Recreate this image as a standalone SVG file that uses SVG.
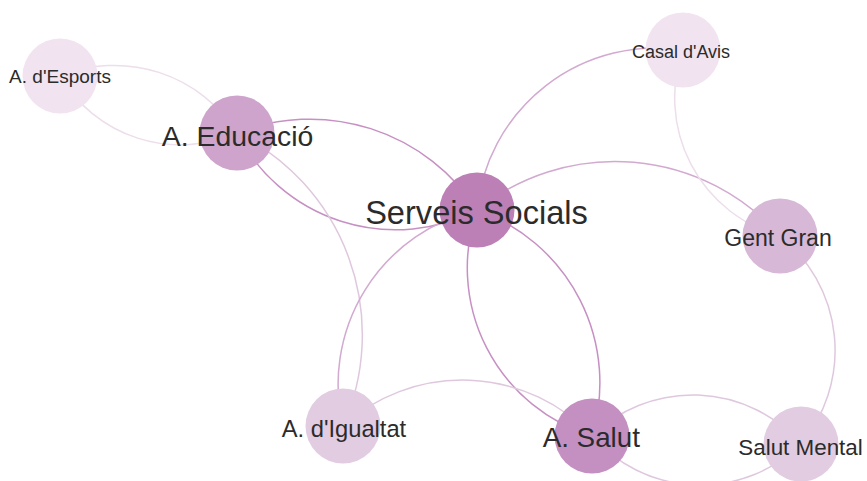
<svg xmlns="http://www.w3.org/2000/svg" width="867" height="481" viewBox="0 0 867 481">
<style>
.link{fill:none;stroke-width:1.5}
.vl{stroke:#ecdeeb}
.lt{stroke:#dfc8de}
.md{stroke:#d2a9d0}
.dk{stroke:#c690c3}
text{font-family:"Liberation Sans",Arial,sans-serif;fill:#2b2b2b;text-anchor:middle}
</style>
<rect width="867" height="481" fill="#ffffff"/>
<g id="links">
<path class="link vl" d="M60,76 A145,145 0 0,1 237,133"/>
<path class="link vl" d="M60,76 A140,140 0 0,0 237,133"/>
<path class="link dk" d="M237,133 A199,199 0 0,1 477,210"/>
<path class="link dk" d="M237,133 A178,178 0 0,0 477,210"/>
<path class="link lt" d="M237,133 A225,225 0 0,1 343,426"/>
<path class="link md" d="M477,210 A180,180 0 0,1 683,50"/>
<path class="link md" d="M477,210 A220,220 0 0,1 780,236"/>
<path class="link vl" d="M683,50 A143,143 0 0,0 780,236"/>
<path class="link dk" d="M477,210 A176,176 0 0,0 592,436"/>
<path class="link dk" d="M477,210 A183,183 0 0,1 592,436"/>
<path class="link md" d="M477,210 A179,179 0 0,0 343,426"/>
<path class="link lt" d="M343,426 A178,178 0 0,1 592,436"/>
<path class="link lt" d="M780,236 A146,146 0 0,1 801,444"/>
<path class="link lt" d="M592,436 A144,144 0 0,1 801,444"/>
<path class="link lt" d="M592,436 A144,144 0 0,0 801,444"/>
</g>
<g id="node-esports"><circle cx="60" cy="76" r="37.5" fill="#f1e4f0"/></g>
<g id="node-educacio"><circle cx="237" cy="133" r="37.5" fill="#cea4cc"/></g>
<g id="node-serveis"><circle cx="477" cy="210" r="37.5" fill="#bc80b6"/></g>
<g id="node-casal"><circle cx="683" cy="50" r="37.5" fill="#f1e4f0"/></g>
<g id="node-gentgran"><circle cx="780" cy="236" r="37.5" fill="#d7b8d6"/></g>
<g id="node-igualtat"><circle cx="343" cy="426" r="37.5" fill="#e1cce2"/></g>
<g id="node-salut"><circle cx="592" cy="436" r="37.5" fill="#c48fc1"/></g>
<g id="node-salutmental"><circle cx="801" cy="444" r="37.5" fill="#e1cce2"/></g>
<g id="labels">
<text x="60" y="82.7" font-size="19">A. d'Esports</text>
<text x="237.5" y="146" font-size="28.4">A. Educació</text>
<text x="476.5" y="224" font-size="32.6">Serveis Socials</text>
<text x="681" y="58.3" font-size="18">Casal d'Avis</text>
<text x="778" y="246" font-size="23">Gent Gran</text>
<text x="344" y="436.7" font-size="23.7">A. d'Igualtat</text>
<text x="591.3" y="447.3" font-size="27.8">A. Salut</text>
<text x="800.5" y="455" font-size="22.4">Salut Mental</text>
</g>
</svg>
